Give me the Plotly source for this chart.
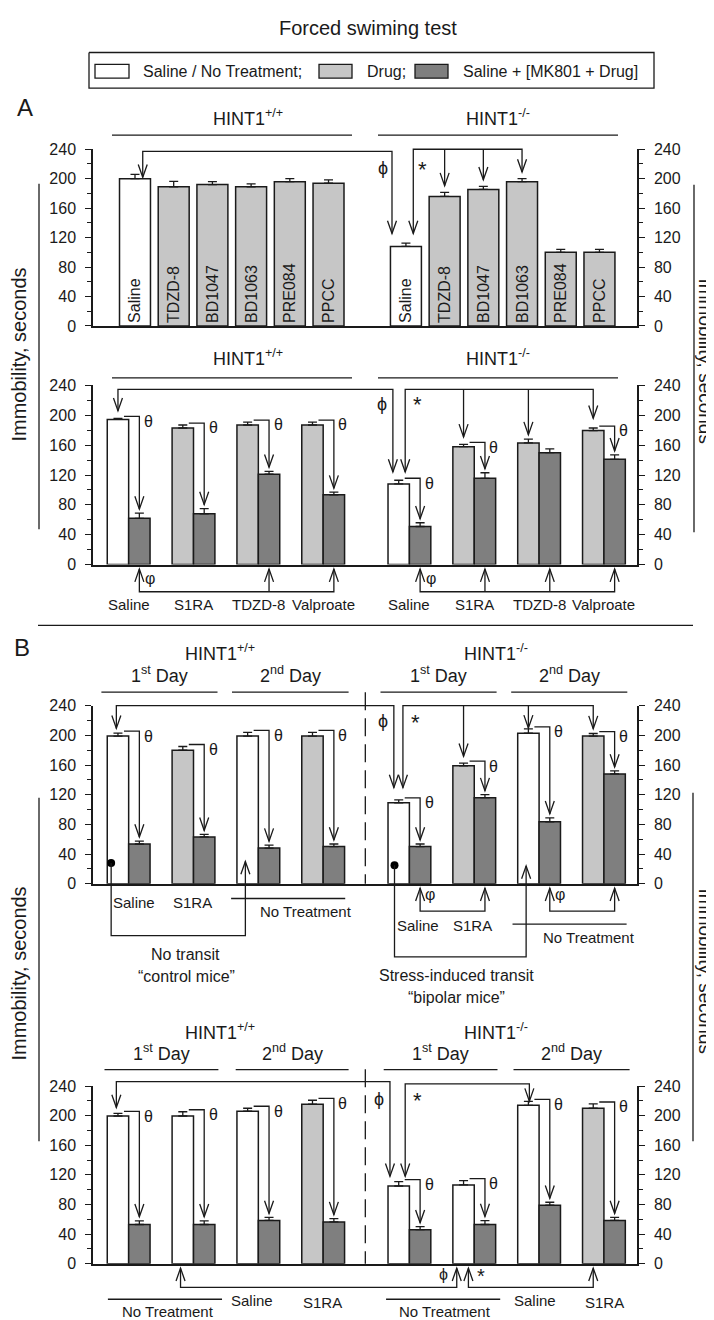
import plotly.graph_objects as go

# ---------------- data ----------------
A1_labels = ["Saline", "TDZD-8", "BD1047", "BD1063", "PRE084", "PPCC"]
A1_wt = [200, 189, 192, 189, 196, 194]
A1_wt_err = [6, 7.5, 4, 4, 4, 4.5]
A1_ko = [108, 176, 185.5, 196, 100, 100]
A1_ko_err = [4.5, 5.5, 4, 4, 4, 4]

A2_labels = ["Saline", "S1RA", "TDZD-8", "Valproate"]
A2_wt_drug = [194.5, 183, 187, 187]
A2_wt_drug_err = [1.5, 4, 4, 4]
A2_wt_mk = [62, 68, 121, 93.5]
A2_wt_mk_err = [7, 7, 4, 3.5]
A2_ko_drug = [108, 158, 163, 179.5]
A2_ko_drug_err = [5, 3, 5, 3.5]
A2_ko_mk = [51, 115.5, 150, 141]
A2_ko_mk_err = [5, 7.5, 5, 6]
A2_kind = ["saline", "drug", "drug", "drug"]

B1_first_wt = [199, 180, 199, 199]
B1_first_wt_err = [4, 5, 5, 5]
B1_mk_wt = [53.5, 63, 48, 50]
B1_mk_wt_err = [4, 3.5, 4, 3.5]
B1_first_ko = [109, 159, 203, 199]
B1_first_ko_err = [4, 3.5, 5.8, 3.5]
B1_mk_ko = [50, 116, 83.5, 148]
B1_mk_ko_err = [3.5, 4, 5.3, 4]
B1_kind = ["saline", "drug", "saline", "drug"]

B2_first_wt = [199.5, 199.5, 206, 215.5]
B2_first_wt_err = [3.5, 5.8, 4, 5.3]
B2_mk_wt = [53, 53, 58.5, 56.5]
B2_mk_wt_err = [5, 5, 4, 4.4]
B2_first_ko = [105, 106.5, 214, 210]
B2_first_ko_err = [5.8, 5.8, 5.3, 5.8]
B2_mk_ko = [46, 53, 79, 58.5]
B2_mk_ko_err = [4, 5.3, 4, 4]
B2_kind = ["saline", "saline", "saline", "drug"]

Y_TICKS = [0, 40, 80, 120, 160, 200, 240]
LEGEND_NAMES = ["Saline / No Treatment;", "Drug;", "Saline + [MK801 + Drug]"]

# ---------------- style / geometry ----------------
FONT = "Liberation Sans, Arial, sans-serif"
INK = "#1a1a1a"
C_WHITE, C_LIGHT, C_DARK = "#ffffff", "#c6c6c6", "#7f7f7f"
KIND_COLOR = {"saline": C_WHITE, "drug": C_LIGHT}

W, H = 714, 1320
XL, XRt = 85, 629
PANEL_PX = {1: (135, 314), 2: (374.3, 555.7), 3: (698.7, 879), 4: (1084, 1264)}
XRANGE = {1: (-1.085, 12.97), 2: (-0.55, 7.84), 3: (-0.55, 7.84), 4: (-0.55, 7.84)}
YMAX = 240
BW = 0.33
GP = [0, 1, 2, 3, 4.33, 5.33, 6.33, 7.33]

fig = go.Figure()
shapes, annots = [], []


def ids(p):
    xa = "x" if p == 1 else f"x{p}"
    ya = "y" if p == 1 else f"y{p}"
    return xa, ya, f"y{p + 4}"


def dx(p, xd):
    r0, r1 = XRANGE[p]
    return XL + (xd - r0) / (r1 - r0) * (XRt - XL)


def dy(p, yd):
    t, b = PANEL_PX[p]
    return b - yd / YMAX * (b - t)


def path_px(pts, width=1.3, dash=None):
    d = "M" + " L".join(f"{x / W:.5f},{1 - y / H:.5f}" for x, y in pts)
    shapes.append(dict(type="path", path=d, xref="paper", yref="paper",
                       line=dict(color=INK, width=width, dash=dash)))


def path(p, pts, **kw):
    path_px([(dx(p, x), dy(p, y)) for x, y in pts], **kw)


def head(p, x, y, down=True):
    X, Y = dx(p, x), dy(p, y)
    h = -13 if down else 13
    path_px([(X - 4.5, Y + h), (X, Y), (X + 4.5, Y + h)])


def text_px(x, y, s, size=16, xanchor="center", angle=0):
    annots.append(dict(x=x / W, y=1 - y / H, xref="paper", yref="paper", text=s,
                       showarrow=False, xanchor=xanchor, yanchor="middle",
                       textangle=angle, font=dict(family=FONT, size=size, color=INK)))


def text(p, x, y, s, size=16, ox=0, oy=0, **kw):
    text_px(dx(p, x) + ox, dy(p, y) + oy, s, size, **kw)


def theta(p, g, ftop, ferr, mtop, merr):
    Xl = dx(p, g - BW / 2) + 6
    Xr = dx(p, g + BW / 2)
    Yh = dy(p, ftop + ferr) - 2
    Yt = dy(p, mtop + merr) - 4
    path_px([(Xl, Yh), (Xr, Yh), (Xr, Yt)])
    path_px([(Xr - 4.5, Yt - 13), (Xr, Yt), (Xr + 4.5, Yt - 13)])
    text_px(Xr + 9, Yh + 5, "θ", 16)


def err(arr):
    return dict(type="data", symmetric=False, array=arr, arrayminus=[0] * len(arr),
                color=INK, thickness=1.3, width=4.5)


def add_pairs(p, first, first_err, mk, mk_err, colors):
    xa, ya, _ = ids(p)
    fig.add_trace(go.Bar(x=[g - BW / 2 for g in GP], y=first, width=BW,
                         marker=dict(color=colors, line=dict(color=INK, width=1.5)),
                         error_y=err(first_err), xaxis=xa, yaxis=ya,
                         showlegend=False, hoverinfo="skip"))
    fig.add_trace(go.Bar(x=[g + BW / 2 for g in GP], y=mk, width=BW,
                         marker=dict(color=C_DARK, line=dict(color=INK, width=1.5)),
                         error_y=err(mk_err), xaxis=xa, yaxis=ya,
                         showlegend=False, hoverinfo="skip"))


# ---------------- panel 1 ----------------
pos1 = list(range(6)) + list(range(7, 13))
cols1 = [C_WHITE] + [C_LIGHT] * 5 + [C_WHITE] + [C_LIGHT] * 5
fig.add_trace(go.Bar(x=pos1, y=A1_wt + A1_ko, width=0.8,
                     marker=dict(color=cols1, line=dict(color=INK, width=1.5)),
                     error_y=err(A1_wt_err + A1_ko_err),
                     text=A1_labels * 2, textposition="inside", insidetextanchor="start",
                     textangle=-90, textfont=dict(family=FONT, size=16, color=INK),
                     xaxis="x", yaxis="y", showlegend=False, hoverinfo="skip"))

# ---------------- panels 2-4 ----------------
add_pairs(2, A2_wt_drug + A2_ko_drug, A2_wt_drug_err + A2_ko_drug_err,
          A2_wt_mk + A2_ko_mk, A2_wt_mk_err + A2_ko_mk_err,
          [KIND_COLOR[k] for k in A2_kind * 2])
add_pairs(3, B1_first_wt + B1_first_ko, B1_first_wt_err + B1_first_ko_err,
          B1_mk_wt + B1_mk_ko, B1_mk_wt_err + B1_mk_ko_err,
          [KIND_COLOR[k] for k in B1_kind * 2])
add_pairs(4, B2_first_wt + B2_first_ko, B2_first_wt_err + B2_first_ko_err,
          B2_mk_wt + B2_mk_ko, B2_mk_wt_err + B2_mk_ko_err,
          [KIND_COLOR[k] for k in B2_kind * 2])

# invisible traces to activate right-hand axes
for p in range(1, 5):
    xa, ya, yr = ids(p)
    fig.add_trace(go.Scatter(x=[0], y=[0], xaxis=xa, yaxis=yr, mode="markers",
                             marker=dict(opacity=0), showlegend=False, hoverinfo="skip"))

# ---------------- axes ----------------
layout_axes = {}
for p in range(1, 5):
    xa, ya, yr = ids(p)
    t, b = PANEL_PX[p]
    xkey = "xaxis" if p == 1 else f"xaxis{p}"
    ykey = "yaxis" if p == 1 else f"yaxis{p}"
    rkey = f"yaxis{p + 4}"
    layout_axes[xkey] = dict(domain=[XL / W, XRt / W], range=list(XRANGE[p]), anchor=ya,
                             showline=True, linecolor=INK, linewidth=1.5, ticks="",
                             showticklabels=False, showgrid=False, zeroline=False)
    ycommon = dict(range=[0, YMAX], tickmode="array", tickvals=Y_TICKS, ticks="outside",
                   ticklen=6, tickwidth=1.2, tickcolor=INK, showline=True, linecolor=INK,
                   linewidth=1.5, showgrid=False, zeroline=False,
                   tickfont=dict(family=FONT, size=16, color=INK),
                   minor=dict(tickvals=[20, 60, 100, 140, 180, 220], ticks="outside",
                              ticklen=4, tickwidth=1, tickcolor=INK, showgrid=False))
    layout_axes[ykey] = dict(ycommon, domain=[1 - b / H, 1 - t / H], anchor=xa, side="left",
                             ticklabelstandoff=6)
    layout_axes[rkey] = dict(ycommon, overlaying=ya, anchor=xa, side="right",
                             ticklabelstandoff=6)

# ---------------- panel 1 annotations ----------------
tR = A1_ko[0] + A1_ko_err[0] + 13
path(1, [(0.2, A1_wt[0] + 2), (0.2, 237), (6.64, 237), (6.64, tR)])
head(1, 0.2, A1_wt[0] + 2)
head(1, 6.64, tR)
tips1 = [A1_ko[i] + A1_ko_err[i] + 9 for i in (1, 2, 3)]
path(1, [(7.19, tR), (7.19, 240), (10, 240), (10, tips1[2])])
head(1, 7.19, tR)
head(1, 10, tips1[2])
for xx, tp in ((8, tips1[0]), (9, tips1[1])):
    path(1, [(xx, 240), (xx, tp)])
    head(1, xx, tp)
text(1, 6.42, 215, "ϕ", 18)
text(1, 7.43, 212, "*", 22)

# ---------------- panel 2 annotations ----------------
path(2, [(-0.165, 206), (-0.165, 234.7), (4.075, 234.7), (4.075, 124)])
head(2, -0.165, 206)
head(2, 4.075, 124)
path(2, [(4.265, 124), (4.265, 234.7), (7.165, 234.7), (7.165, 196)])
head(2, 4.265, 124)
head(2, 7.165, 196)
for xx, tp in ((5.165, 171), (6.165, 174)):
    path(2, [(xx, 234.7), (xx, tp)])
    head(2, xx, tp)
text(2, 3.9, 215, "ϕ", 18)
text(2, 4.46, 214, "*", 22)
A2_first = A2_wt_drug + A2_ko_drug
A2_first_err = A2_wt_drug_err + A2_ko_drug_err
A2_mk = A2_wt_mk + A2_ko_mk
A2_mk_err = A2_wt_mk_err + A2_ko_mk_err
for i in (0, 1, 2, 3, 4, 5, 7):
    theta(2, GP[i], A2_first[i], A2_first_err[i], A2_mk[i], A2_mk_err[i])
for grp in ([0, 2, 3], [4, 5, 6, 7]):
    xs = [GP[i] + BW / 2 for i in grp]
    path(2, [(xs[0], -6), (xs[0], -36.5), (xs[-1], -36.5), (xs[-1], -6)])
    for xx in xs:
        if xx not in (xs[0], xs[-1]):
            path(2, [(xx, -36.5), (xx, -6)])
        head(2, xx, -6, down=False)
    text(2, xs[0], -19, "φ", 16, ox=11)
for i, lab in enumerate(A2_labels * 2):
    text(2, GP[i], -54, lab, 15)

# ---------------- panel 3 annotations ----------------
path(3, [(-0.19, 209.4), (-0.19, 240), (4.09, 240), (4.09, 129.5)])
head(3, -0.19, 209.4)
head(3, 4.09, 129.5)
path(3, [(4.23, 129.5), (4.23, 240), (7.165, 240), (7.165, 209)])
head(3, 4.23, 129.5)
head(3, 7.165, 209)
for xx, tp in ((5.165, 171.7), (6.165, 210)):
    path(3, [(xx, 240), (xx, tp)])
    head(3, xx, tp)
text(3, 3.93, 220, "ϕ", 18)
text(3, 4.43, 217, "*", 22)
B1_first = B1_first_wt + B1_first_ko
B1_first_err = B1_first_wt_err + B1_first_ko_err
B1_mk = B1_mk_wt + B1_mk_ko
B1_mk_err = B1_mk_wt_err + B1_mk_ko_err
for i in range(8):
    theta(3, GP[i], B1_first[i], B1_first_err[i], B1_mk[i], B1_mk_err[i])
# transit connectors
path(3, [(-0.27, 28), (-0.27, -70), (1.8, -70), (1.8, 30)])
head(3, 1.8, 30, down=False)
path(3, [(4.1, 25), (4.1, -98.6), (6.13, -98.6), (6.13, 24)])
head(3, 6.13, 24, down=False)
fig.add_trace(go.Scatter(x=[-0.27, 4.1], y=[28, 25], xaxis="x3", yaxis="y3", mode="markers",
                         marker=dict(color="#000000", size=8, symbol="circle"),
                         showlegend=False, hoverinfo="skip", cliponaxis=False))
for grp in ([4, 5], [6, 7]):
    xs = [GP[i] + BW / 2 for i in grp]
    path(3, [(xs[0], -6), (xs[0], -37), (xs[1], -37), (xs[1], -6)])
    head(3, xs[0], -6, down=False)
    head(3, xs[1], -6, down=False)
    text(3, xs[0], -14.6, "φ", 16, ox=10)
text(3, 0.08, -26, "Saline", 15)
text(3, 0.98, -26, "S1RA", 15)
path(3, [(1.58, -20), (3.34, -20)])
text(3, 2.74, -38, "No Treatment", 15)
text(3, 4.46, -57, "Saline", 15)
text(3, 5.3, -57, "S1RA", 15)
path(3, [(5.92, -54.6), (7.68, -54.6)])
text(3, 7.1, -72, "No Treatment", 15)
path(3, [(3.65, 258), (3.65, 0)], dash="18px,8px")

# ---------------- panel 4 annotations ----------------
path(4, [(-0.19, 211), (-0.19, 246), (4.03, 246), (4.03, 118)])
head(4, -0.19, 211)
head(4, 4.03, 118)
path(4, [(4.265, 118), (4.265, 243), (6.18, 243), (6.18, 219.5)])
head(4, 4.265, 118)
head(4, 6.18, 219.5)
text(4, 3.86, 223, "ϕ", 18)
text(4, 4.45, 220, "*", 22)
B2_first = B2_first_wt + B2_first_ko
B2_first_err = B2_first_wt_err + B2_first_ko_err
B2_mk = B2_mk_wt + B2_mk_ko
B2_mk_err = B2_mk_wt_err + B2_mk_ko_err
for i in range(8):
    theta(4, GP[i], B2_first[i], B2_first_err[i], B2_mk[i], B2_mk_err[i])
path(4, [(0.8, -6), (0.8, -32), (5.06, -32), (5.06, -6)])
head(4, 0.8, -6, down=False)
head(4, 5.06, -6, down=False)
path(4, [(5.24, -6), (5.24, -32), (7.165, -32), (7.165, -6)])
head(4, 5.24, -6, down=False)
head(4, 7.165, -6, down=False)
text(4, 4.85, -14.7, "ϕ", 16)
text(4, 5.44, -17, "*", 20)
path(4, [(-0.32, -48), (1.44, -48)])
path(4, [(3.97, -48), (5.73, -48)])
text(4, 0.6, -65, "No Treatment", 15)
text(4, 4.88, -65, "No Treatment", 15)
text(4, 1.9, -50, "Saline", 15)
text(4, 2.99, -52, "S1RA", 15)
text(4, 6.27, -50, "Saline", 15)
text(4, 7.34, -52, "S1RA", 15)
path(4, [(3.65, 262.7), (3.65, 0)], dash="18px,8px")

# ---------------- headers & free text ----------------
text_px(360, 12, "Forced swiming test", 20)
path_px([(81, 37), (646, 37), (646, 73), (81, 73), (81, 37)], width=1.3)
for (x0, x1), col, name, tx in zip([(87, 121), (311, 344), (407, 440)],
                                   [C_WHITE, C_LIGHT, C_DARK], LEGEND_NAMES, [133, 357, 453]):
    shapes.append(dict(type="rect", xref="paper", yref="paper", x0=x0 / W, x1=x1 / W,
                       y0=1 - 63 / H, y1=1 - 49 / H, fillcolor=col,
                       line=dict(color=INK, width=1.3)))
    text_px(tx, 56, name, 16, xanchor="left")

text_px(17, 93, "A", 24)
text_px(14, 640, "B", 24)
path_px([(30, 617.3), (685, 617.3)])

WT = "HINT1<sup>+/+</sup>"
KO = "HINT1<sup>-/-</sup>"
for yh, yl in ((103, 120.7), (346, 366.7)):
    text_px(240, yh, WT, 18)
    text_px(490, yh, KO, 18)
    path_px([(104, yl), (344, yl)])
    path_px([(370, yl), (610, yl)])

DAY1 = "1<sup>st</sup> Day"
DAY2 = "2<sup>nd</sup> Day"
for yh, yd, yl, xs in ((645, 667, 685, [(93.4, 209.5), (224, 340.6), (372.5, 488.6), (503.2, 619.3)]),
                       (1029, 1050, 1067.3, [(96.5, 210.4), (227.7, 340.6), (375.7, 489.5), (505.5, 621.6)])):
    text_px(212, yh, WT, 18)
    text_px(488, yh, KO, 18)
    for (a, b), lab in zip(xs, [DAY1, DAY2, DAY1, DAY2]):
        text_px((a + b) / 2, yd, lab, 18)
        path_px([(a, yl), (b, yl)])

text_px(177, 951, "No transit", 16)
text_px(178, 973, "“control mice”", 16)
text_px(448, 972, "Stress-induced transit", 16)
text_px(448, 994, "“bipolar mice”", 16)

YT = "Immobility, seconds"
text_px(11, 343, YT, 20, angle=-90)
path_px([(31, 170), (31, 520)])
text_px(697, 349, YT, 19, angle=90)
path_px([(686, 171), (686, 523)])
text_px(11, 970, YT, 20, angle=-90)
path_px([(31, 792), (31, 1140)])
text_px(697, 967, YT, 19, angle=90)
path_px([(685, 787), (685, 1140)])

fig.update_layout(width=W, height=H, margin=dict(l=0, r=0, t=0, b=0), autosize=False,
                  paper_bgcolor="white", plot_bgcolor="rgba(0,0,0,0)", showlegend=False,
                  barmode="overlay", shapes=shapes, annotations=annots,
                  font=dict(family=FONT, color=INK), **layout_axes)

fig.write_html("out.html", config={"displayModeBar": False})
